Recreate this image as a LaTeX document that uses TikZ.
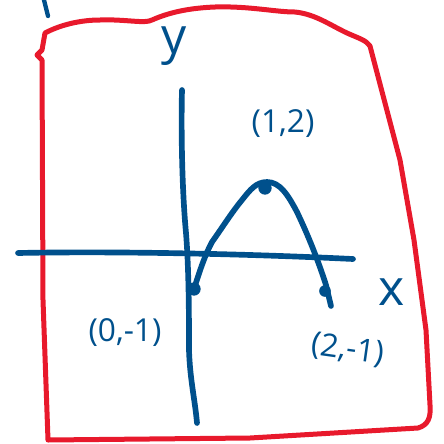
\documentclass[tikz,border=0pt]{standalone}
\usepackage{fontspec}
\setmainfont{Open Sans}
\definecolor{inkblue}{RGB}{0,80,140}
\definecolor{inkred}{RGB}{232,25,44}
\begin{document}
\begin{tikzpicture}[x=0.6pt,y=-0.6pt,
  frame/.style={draw=inkred,line width=3pt,line join=round,line cap=round},
  ink/.style={draw=inkblue,line width=3.4pt,line cap=round,line join=round},
  dotmark/.style={circle,fill=inkblue,inner sep=0pt,minimum size=8pt},
  lbl/.style={text=inkblue,font=\fontsize{19}{22}\selectfont,inner sep=0pt},
  axlbl/.style={text=inkblue,font=\fontsize{30}{34}\selectfont,inner sep=0pt}]
\useasboundingbox (0,0) rectangle (444,444);
% red frame
\draw[frame] (45,33) .. controls (60,25) and (80,20) .. (100,20)
  .. controls (125,19) and (145,24) .. (152,20)
  .. controls (170,12) and (190,8) .. (215,7)
  .. controls (250,6) and (275,12) .. (295,12)
  .. controls (315,14) and (330,25) .. (347,33)
  .. controls (358,38) and (366,40) .. (370,46)
  -- (400,160) -- (414,240) -- (426,330) -- (430,405)
  .. controls (431,418) and (428,425) .. (418,428)
  -- (250,438) -- (48,440)
  -- (43,300) -- (42,60) -- (37,55) -- (42,50) -- cycle;
% small stroke at top left
\draw[ink,line width=2.6pt] (44,0) -- (48,16);
% axes
\coordinate (ytop) at (182,90);
\coordinate (ybot) at (197,423);
\coordinate (xl) at (18,253);
\coordinate (xr) at (353,259);
\draw[ink] (ytop) .. controls (181,130) and (182,190) .. (186,233)
  .. controls (189,270) and (189,320) .. (189,350)
  .. controls (190,380) and (195,400) .. (ybot);
\draw[ink] (xl) .. controls (120,251) and (250,254) .. (xr);
% curve
\node[dotmark] (p0) at (194,289) {};
\node[dotmark] (p1) at (265,188) {};
\node[dotmark,minimum size=7pt] (p2) at (325,291) {};
\draw[ink] (p0.center) .. controls (200,270) and (205,255) .. (212,242)
  .. controls (222,228) and (232,212) .. (242,200)
  .. controls (250,190) and (256,182) .. (267,182)
  .. controls (280,182) and (288,195) .. (297,212)
  .. controls (308,235) and (318,260) .. (326,285)
  -- (331,306);
% labels
\node[axlbl] (ylab) at (174,46) {y};
\node[axlbl] (xlab) at (392,292) {x};
\node[lbl] (l12) at (283,124) {(1,2)};
\node[lbl] (l01) at (125,333) {(0,-1)};
\node[lbl,rotate=-8] (l21) at (348,350) {(2,-1)};
\end{tikzpicture}
\end{document}
